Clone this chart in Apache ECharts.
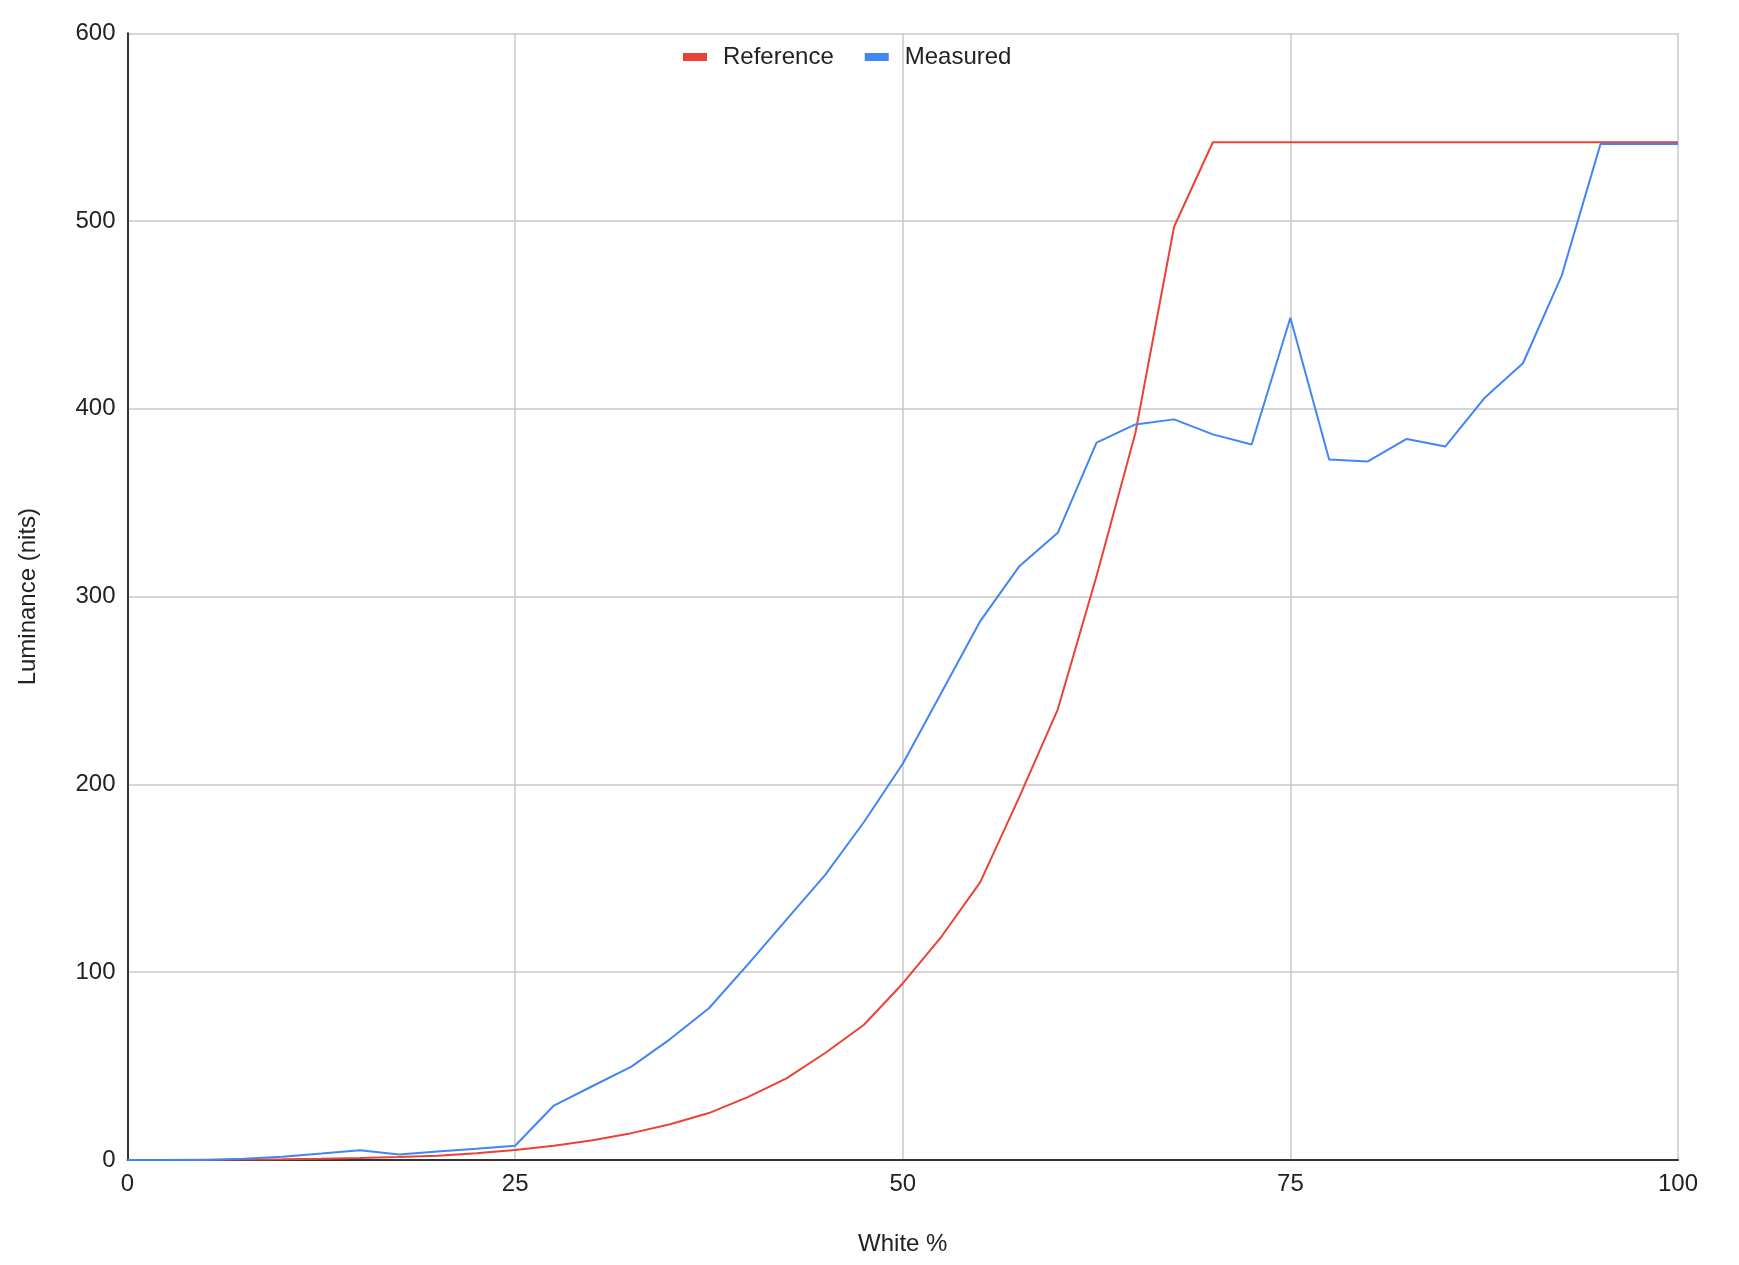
<!DOCTYPE html>
<html>
<head>
<meta charset="utf-8">
<script src="https://cdn.jsdelivr.net/npm/echarts@6/dist/echarts.min.js"></script>
<style>
html,body{margin:0;padding:0;background:#fff;}
#chart{width:1739px;height:1265px;}
</style>
</head>
<body>
<div id="chart"></div>
<script>
const whitePct = [0,2.5,5,7.5,10,12.5,15,17.5,20,22.5,25,27.5,30,32.5,35,37.5,40,42.5,45,47.5,50,52.5,55,57.5,60,62.5,65,67.5,70,72.5,75,77.5,80,82.5,85,87.5,90,92.5,95,97.5,100];
const referenceNits = [0,0,0.1,0.2,0.4,0.7,1.1,1.6,2.3,3.6,5.3,7.6,10.5,14.3,19,25,33.5,43.5,57,72,94,119,148,193,240,311,387,497,542,542,542,542,542,542,542,542,542,542,542,542,542];
const measuredNits = [0,0,0,0.6,1.7,3.4,5.2,2.9,4.5,6,7.6,29,39.4,49.7,64.4,80.8,104,128,151.8,180,211,249,287,316,334,382,391.7,394.4,386.4,381,448.5,373,372,384,380,405.6,424.3,471,541,541,541];
const xTicks = [0,25,50,75,100];
const yTicks = [0,100,200,300,400,500,600];

const font = '"Liberation Sans", Arial, sans-serif';
const chart = echarts.init(document.getElementById('chart'), null, {renderer:'canvas'});
chart.setOption({
  animation:false,
  backgroundColor:'#ffffff',
  textStyle:{fontFamily:font},
  legend:{
    left:678, top:40,
    icon:'rect', itemWidth:24, itemHeight:8, itemGap:31,
    textStyle:{fontSize:24, color:'#222', fontFamily:font, padding:[0,0,0,11]},
    data:['Reference','Measured']
  },
  grid:{left:127.5, right:61, top:33.3, bottom:105},
  xAxis:{
    type:'value', min:xTicks[0], max:xTicks[xTicks.length-1], interval:25,
    name:'White %', nameLocation:'middle', nameGap:72,
    nameTextStyle:{fontSize:24, color:'#222', fontFamily:font},
    axisLine:{show:true, lineStyle:{color:'#333', width:2}},
    axisTick:{show:false},
    axisLabel:{fontSize:24, color:'#222', margin:12, fontFamily:font},
    splitLine:{show:true, lineStyle:{color:'#c8c8c8', width:1.5}}
  },
  yAxis:{
    type:'value', min:yTicks[0], max:yTicks[yTicks.length-1], interval:100,
    name:'Luminance (nits)', nameLocation:'middle', nameGap:87,
    nameTextStyle:{fontSize:24, color:'#222', fontFamily:font},
    axisLine:{show:true, lineStyle:{color:'#333', width:2}},
    axisTick:{show:false},
    axisLabel:{fontSize:24, color:'#222', margin:12, fontFamily:font},
    splitLine:{show:true, lineStyle:{color:'#c8c8c8', width:1.5}}
  },
  series:[
    {name:'Reference', type:'line', data:whitePct.map((x,i)=>[x,referenceNits[i]]),
     showSymbol:false, symbol:'none', color:'#EA4335', lineStyle:{width:2, color:'#EA4335'}, z:2},
    {name:'Measured', type:'line', data:whitePct.map((x,i)=>[x,measuredNits[i]]),
     showSymbol:false, symbol:'none', color:'#4285F4', lineStyle:{width:2, color:'#4285F4'}, z:3}
  ]
});
</script>
</body>
</html>
